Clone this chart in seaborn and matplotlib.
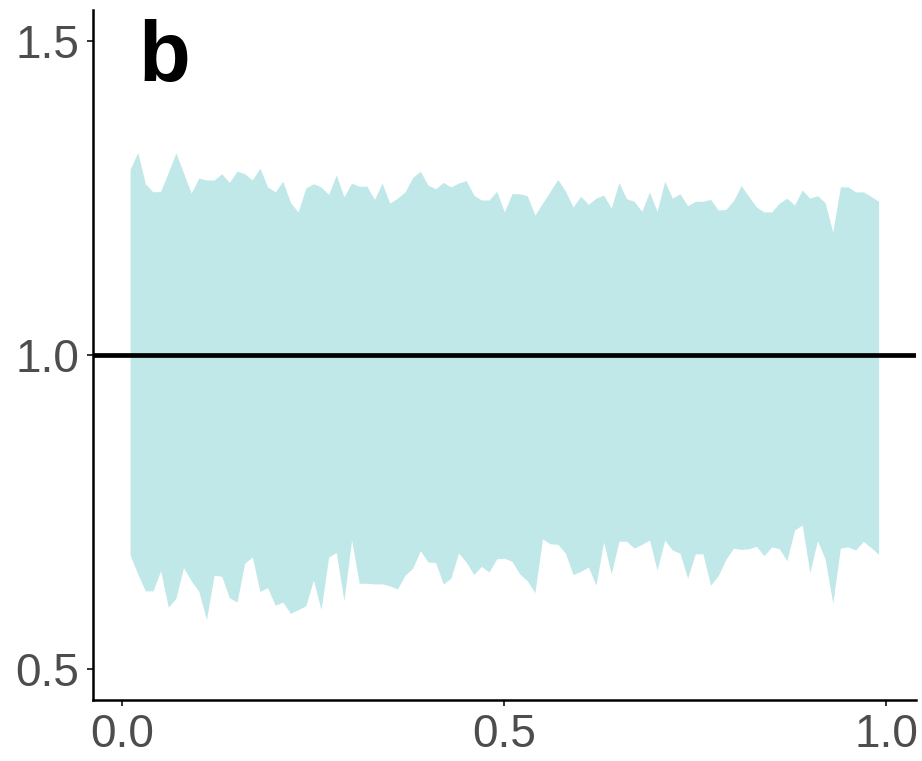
import numpy as np
import pandas as pd
import matplotlib
matplotlib.use("Agg")
import matplotlib.pyplot as plt
import seaborn as sns

# x positions: 0.01 .. 0.99
x_values = [round(0.01 * (i + 1), 2) for i in range(99)]

upper = [1.296, 1.323, 1.273, 1.260, 1.261, 1.291, 1.322, 1.290, 1.258, 1.282,
         1.279, 1.279, 1.289, 1.275, 1.293, 1.289, 1.279, 1.298, 1.268, 1.260,
         1.277, 1.243, 1.228, 1.266, 1.273, 1.268, 1.256, 1.287, 1.252, 1.274,
         1.269, 1.269, 1.248, 1.274, 1.242, 1.250, 1.260, 1.283, 1.293, 1.271,
         1.265, 1.275, 1.268, 1.274, 1.278, 1.255, 1.247, 1.247, 1.261, 1.228,
         1.257, 1.257, 1.254, 1.223, 1.242, 1.261, 1.280, 1.261, 1.236, 1.253,
         1.240, 1.250, 1.255, 1.234, 1.275, 1.249, 1.245, 1.229, 1.260, 1.229,
         1.277, 1.250, 1.257, 1.238, 1.245, 1.245, 1.248, 1.231, 1.232, 1.246,
         1.270, 1.253, 1.236, 1.228, 1.228, 1.242, 1.250, 1.239, 1.263, 1.250,
         1.254, 1.243, 1.196, 1.268, 1.268, 1.260, 1.260, 1.253, 1.245]

lower = [0.681, 0.651, 0.624, 0.624, 0.656, 0.598, 0.612, 0.661, 0.640, 0.623,
         0.578, 0.649, 0.647, 0.613, 0.606, 0.668, 0.678, 0.623, 0.629, 0.601,
         0.606, 0.588, 0.594, 0.600, 0.641, 0.594, 0.678, 0.685, 0.608, 0.705,
         0.636, 0.636, 0.635, 0.635, 0.632, 0.627, 0.649, 0.660, 0.688, 0.670,
         0.669, 0.635, 0.644, 0.684, 0.670, 0.650, 0.663, 0.654, 0.675, 0.676,
         0.671, 0.651, 0.640, 0.621, 0.707, 0.699, 0.698, 0.684, 0.650, 0.655,
         0.662, 0.633, 0.702, 0.651, 0.703, 0.703, 0.692, 0.698, 0.705, 0.657,
         0.705, 0.689, 0.684, 0.644, 0.683, 0.683, 0.633, 0.648, 0.674, 0.692,
         0.690, 0.691, 0.695, 0.680, 0.694, 0.691, 0.672, 0.721, 0.729, 0.653,
         0.704, 0.675, 0.604, 0.692, 0.694, 0.689, 0.703, 0.693, 0.682]

reference_level = 1.0
x_ticks = [0.0, 0.5, 1.0]
x_tick_labels = ["0.0", "0.5", "1.0"]
y_ticks = [0.5, 1.0, 1.5]
y_tick_labels = ["0.5", "1.0", "1.5"]
panel_label = "b"

df = pd.DataFrame({"x": x_values, "upper": upper, "lower": lower})

sns.set_theme(style="ticks")
plt.rcParams["font.family"] = ["Liberation Sans", "DejaVu Sans"]

fig = plt.figure(figsize=(9.22, 7.61), dpi=100)
ax = fig.add_axes([0.1005, 0.0802, 0.893, 0.9067])

band_color = "#c1e8e8"
sns.lineplot(data=df, x="x", y="upper", ax=ax, color=band_color, linewidth=0)
sns.lineplot(data=df, x="x", y="lower", ax=ax, color=band_color, linewidth=0)
ax.fill_between(df["x"], df["lower"], df["upper"], color=band_color, linewidth=0, zorder=1)
ax.axhline(reference_level, color="black", linewidth=3.4, zorder=3)

ax.set_xlim(-0.039, 1.039)
ax.set_ylim(0.45, 1.55)
ax.set_xticks(x_ticks)
ax.set_xticklabels(x_tick_labels)
ax.set_yticks(y_ticks)
ax.set_yticklabels(y_tick_labels)
ax.set_xlabel("")
ax.set_ylabel("")

ax.tick_params(axis="both", labelsize=33, labelcolor="#4d4d4d", color="#333333",
               length=4.5, width=1.4, pad=5)
for side in ["top", "right"]:
    ax.spines[side].set_visible(False)
for side in ["left", "bottom"]:
    ax.spines[side].set_linewidth(1.8)
    ax.spines[side].set_color("black")

ax.text(0.021, 1.535, panel_label, fontsize=61, fontweight="bold", color="black",
        ha="left", va="top", transform=ax.transData)

fig.savefig("out.png", dpi=100)
